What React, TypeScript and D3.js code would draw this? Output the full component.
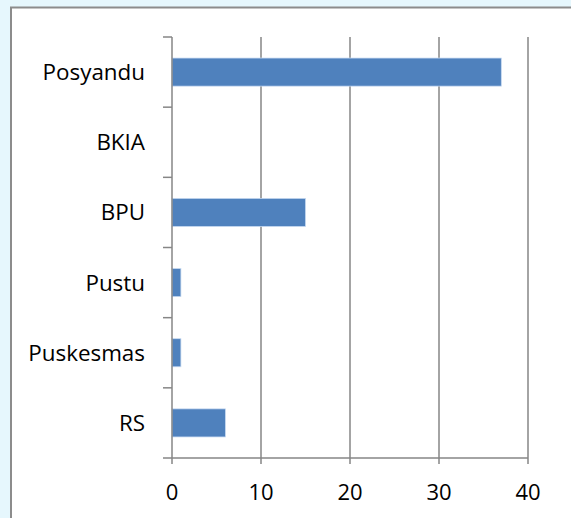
import React, { useEffect, useRef } from "react";
import * as d3 from "d3";

const categories = ["Posyandu", "BKIA", "BPU", "Pustu", "Puskesmas", "RS"];
const values = [37, 0, 15, 1, 1, 6];
const xTicks = [0, 10, 20, 30, 40];

export default function App() {
  const ref = useRef<SVGSVGElement>(null);

  useEffect(() => {
    document.body.style.margin = "0";
    const width = 571;
    const height = 518;
    const plot = { left: 172, right: 528, top: 37, bottom: 458 };
    const axisColor = "#868686";
    const font = "'Open Sans', sans-serif";
    const rows = categories.map((c, i) => ({ name: c, value: values[i] }));

    const svg = d3.select(ref.current);
    svg.selectAll("*").remove();

    // background + chart frame
    svg.append("rect").attr("width", width).attr("height", height).attr("fill", "#e6f7fd");
    svg
      .append("rect")
      .attr("x", 11)
      .attr("y", 7.5)
      .attr("width", 570)
      .attr("height", 530)
      .attr("fill", "#ffffff")
      .attr("stroke", "#8c8c8c")
      .attr("stroke-width", 2);

    const x = d3.scaleLinear().domain([0, 40]).range([plot.left, plot.right]);
    const y = d3
      .scaleBand()
      .domain(categories)
      .range([plot.top, plot.bottom])
      .paddingInner(0.6)
      .paddingOuter(0.3);
    const band = (plot.bottom - plot.top) / categories.length;

    // vertical gridlines
    svg
      .append("g")
      .selectAll("line")
      .data(xTicks.slice(1))
      .enter()
      .append("line")
      .attr("x1", (d) => x(d))
      .attr("x2", (d) => x(d))
      .attr("y1", plot.top)
      .attr("y2", plot.bottom + 6)
      .attr("stroke", axisColor)
      .attr("stroke-width", 1.5);

    // bars
    svg
      .append("g")
      .selectAll("rect")
      .data(rows.filter((r) => r.value > 0))
      .enter()
      .append("rect")
      .attr("x", x(0))
      .attr("y", (d) => y(d.name)!)
      .attr("width", (d) => x(d.value) - x(0))
      .attr("height", y.bandwidth())
      .attr("fill", "#4f81bd")
      .attr("stroke", "#c6d9f1")
      .attr("stroke-width", 0.75);

    // y axis line + ticks at band edges
    const yAxis = svg.append("g");
    yAxis
      .append("line")
      .attr("x1", x(0))
      .attr("x2", x(0))
      .attr("y1", plot.top)
      .attr("y2", plot.bottom + 6)
      .attr("stroke", axisColor)
      .attr("stroke-width", 1.5);
    yAxis
      .selectAll(".tick")
      .data(d3.range(categories.length + 1))
      .enter()
      .append("line")
      .attr("x1", x(0) - 9)
      .attr("x2", x(0))
      .attr("y1", (i) => plot.top + i * band)
      .attr("y2", (i) => plot.top + i * band)
      .attr("stroke", axisColor)
      .attr("stroke-width", 1.5);
    yAxis
      .selectAll("text")
      .data(categories)
      .enter()
      .append("text")
      .attr("x", 145)
      .attr("y", (d) => y(d)! + y.bandwidth() / 2)
      .attr("dy", "0.36em")
      .attr("text-anchor", "end")
      .attr("font-family", font)
      .attr("font-size", 22.4)
      .attr("fill", "#000")
      .text((d) => d);

    // x axis
    const xAxis = svg.append("g");
    xAxis
      .append("line")
      .attr("x1", x(0))
      .attr("x2", x(40))
      .attr("y1", plot.bottom)
      .attr("y2", plot.bottom)
      .attr("stroke", axisColor)
      .attr("stroke-width", 1.5);
    xAxis
      .selectAll("text")
      .data(xTicks)
      .enter()
      .append("text")
      .attr("x", (d) => x(d))
      .attr("y", 500)
      .attr("text-anchor", "middle")
      .attr("font-family", font)
      .attr("font-size", 22)
      .attr("fill", "#000")
      .text((d) => d);
  }, []);

  return <svg ref={ref} width={571} height={518} style={{ display: "block" }} />;
}
